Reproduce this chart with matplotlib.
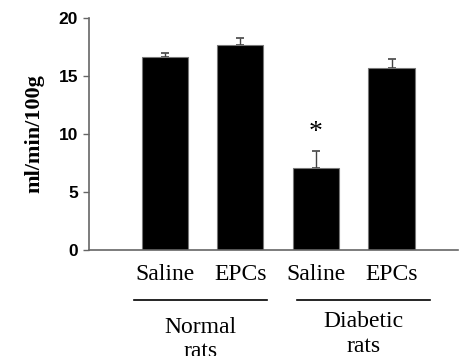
import matplotlib
matplotlib.use("Agg")
import matplotlib.pyplot as plt

categories = ["Saline", "EPCs", "Saline", "EPCs"]
values = [16.65, 17.65, 7.1, 15.7]
errors = [0.3, 0.65, 1.4, 0.8]
groups = [["Normal", "rats"], ["Diabetic", "rats"]]
yticks = [0, 5, 10, 15, 20]

fig = plt.figure(figsize=(4.59, 3.56), dpi=100)
ax = fig.add_axes([0.194, 0.298, 0.804, 0.651])
x = list(range(len(values)))
ax.bar(x, values, width=0.61, color="black", edgecolor="#777777", linewidth=0.8, zorder=2)
ax.errorbar(x, values, yerr=[[0]*len(errors), errors], fmt="none", ecolor="#444444",
            elinewidth=1.0, capsize=3, capthick=1.2, zorder=1)
ax.set_xlim(-1.0, 3.88)
ax.set_ylim(0, 20)
ax.set_yticks(yticks)
ax.set_yticklabels([str(t) for t in yticks], fontfamily="Liberation Sans", fontweight="bold", fontsize=12.5)
ax.set_xticks([])
for s in ["top", "right"]:
    ax.spines[s].set_visible(False)
for s in ["left", "bottom"]:
    ax.spines[s].set_color("#666666")
    ax.spines[s].set_linewidth(1.2)
ax.tick_params(axis="y", length=4, color="#666666", width=1, pad=4)
ax.set_ylabel("ml/min/100g", fontfamily="Liberation Serif", fontweight="bold", fontsize=16, labelpad=10)

# asterisk above diabetic saline
ax.text(2, values[2] + errors[2] + 1.6, "*", ha="center", va="center",
        fontfamily="Liberation Serif", fontsize=20)

serif = dict(fontfamily="Liberation Serif", fontsize=17)
for xi, c in zip(x, categories):
    ax.text(xi, -2.16, c, ha="center", va="center", clip_on=False, **serif)

for (x0, x1), g, (gy1, gy2) in zip([(-0.4, 1.35), (1.75, 3.51)], groups,
                                   [(-6.72, -8.8), (-6.2, -8.36)]):
    ax.plot([x0, x1], [-4.31, -4.31], color="black", lw=1.2, clip_on=False)
    ax.text((x0 + x1) / 2, gy1, g[0], ha="center", va="center", clip_on=False, **serif)
    ax.text((x0 + x1) / 2, gy2, g[1], ha="center", va="center", clip_on=False, **serif)

fig.savefig("out.png", dpi=100)
